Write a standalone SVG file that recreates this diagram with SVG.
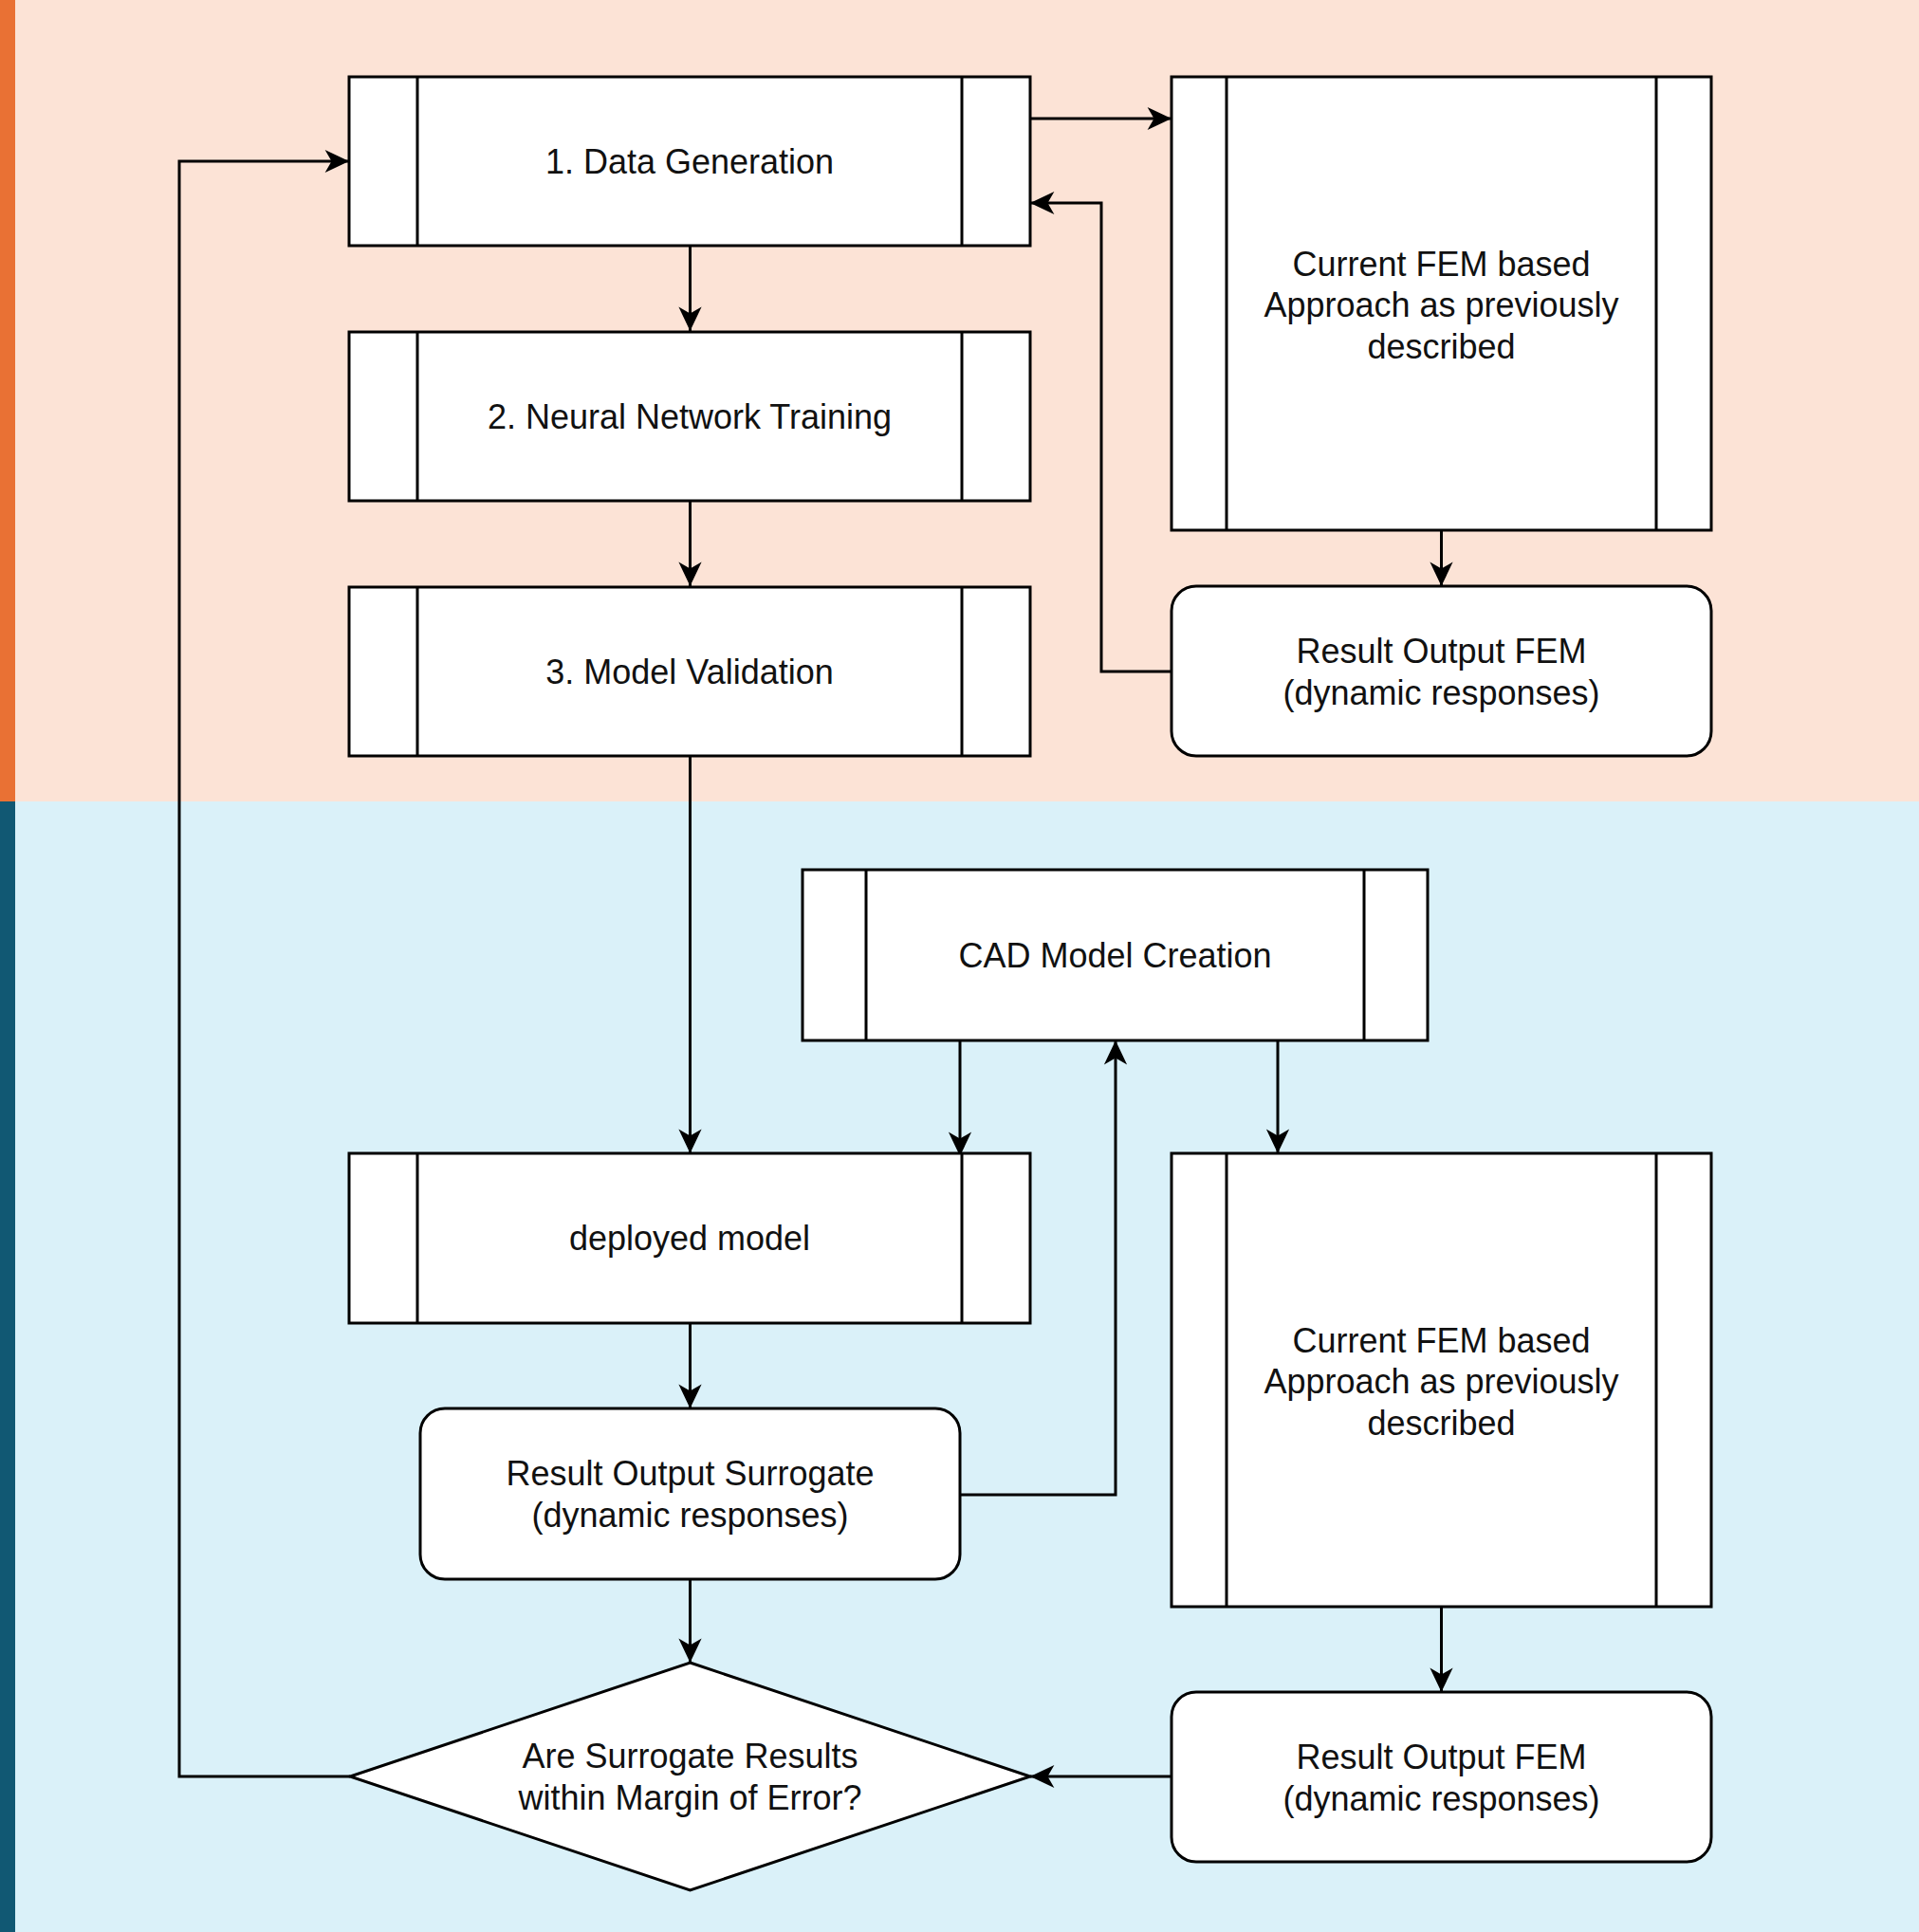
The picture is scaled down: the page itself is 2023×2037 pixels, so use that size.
<svg xmlns="http://www.w3.org/2000/svg" width="2023" height="2037" viewBox="0 0 2023 2037">
<defs>
<style>
.box{fill:#fff;stroke:#000;stroke-width:3}
.ln{fill:none;stroke:#000;stroke-width:3}
.t{font-family:"Liberation Sans",Arial,sans-serif;font-size:36px;fill:#111;text-anchor:middle}
.c{fill:none;stroke:#000;stroke-width:3;marker-end:url(#arr)}
</style>
<marker id="arr" markerUnits="userSpaceOnUse" markerWidth="30" markerHeight="30" viewBox="-24 -12 26 24" refX="0" refY="0" orient="auto">
<path d="M0,0 L-22,-10.5 L-16,0 L-22,10.5 Z" fill="#000"/>
</marker>
</defs>
<g id="background">
<rect x="0" y="0" width="2023" height="845" fill="#FCE3D6"/>
<rect x="0" y="845" width="2023" height="1192" fill="#DAF1F9"/>
<rect x="0" y="0" width="16" height="845" fill="#E97134"/>
<rect x="0" y="845" width="16" height="1192" fill="#115873"/>
</g>
<g id="connectors">
<path class="c" d="M727.5,259 V349"/>
<path class="c" d="M727.5,528 V618"/>
<path class="c" d="M727.5,797 V1216"/>
<path class="c" d="M1086,125 H1235"/>
<path class="c" d="M1235,708 H1161 V214 H1086"/>
<path class="c" d="M1519.5,559 V618"/>
<path class="c" d="M1012,1097 V1219"/>
<path class="c" d="M1347,1097 V1216"/>
<path class="c" d="M1012,1576 H1176 V1097"/>
<path class="c" d="M727.5,1395 V1485"/>
<path class="c" d="M727.5,1665 V1753"/>
<path class="c" d="M1519.5,1694 V1784"/>
<path class="c" d="M1235,1873 H1086"/>
<path class="c" d="M369,1873 H189 V170 H368"/>
</g>
<g id="data-generation">
<rect class="box" x="368" y="81" width="718" height="178"/>
<path class="ln" d="M440,81 V259 M1014,81 V259"/>
<text class="t" x="727" y="183">1. Data Generation</text>
</g>
<g id="nn-training">
<rect class="box" x="368" y="350" width="718" height="178"/>
<path class="ln" d="M440,350 V528 M1014,350 V528"/>
<text class="t" x="727" y="452">2. Neural Network Training</text>
</g>
<g id="model-validation">
<rect class="box" x="368" y="619" width="718" height="178"/>
<path class="ln" d="M440,619 V797 M1014,619 V797"/>
<text class="t" x="727" y="721">3. Model Validation</text>
</g>
<g id="fem-top">
<rect class="box" x="1235" y="81" width="569" height="478"/>
<path class="ln" d="M1293,81 V559 M1746,81 V559"/>
<text class="t" x="1519.5" y="291">Current FEM based</text>
<text class="t" x="1519.5" y="334">Approach as previously</text>
<text class="t" x="1519.5" y="378">described</text>
</g>
<g id="result-fem-top">
<rect class="box" x="1235" y="618" width="569" height="179" rx="26" ry="26"/>
<text class="t" x="1519.5" y="699">Result Output FEM</text>
<text class="t" x="1519.5" y="743">(dynamic responses)</text>
</g>
<g id="cad-model">
<rect class="box" x="846" y="917" width="659" height="180"/>
<path class="ln" d="M913,917 V1097 M1438,917 V1097"/>
<text class="t" x="1175.5" y="1020">CAD Model Creation</text>
</g>
<g id="deployed-model">
<rect class="box" x="368" y="1216" width="718" height="179"/>
<path class="ln" d="M440,1216 V1395 M1014,1216 V1395"/>
<text class="t" x="727" y="1318">deployed model</text>
</g>
<g id="fem-bottom">
<rect class="box" x="1235" y="1216" width="569" height="478"/>
<path class="ln" d="M1293,1216 V1694 M1746,1216 V1694"/>
<text class="t" x="1519.5" y="1426">Current FEM based</text>
<text class="t" x="1519.5" y="1469">Approach as previously</text>
<text class="t" x="1519.5" y="1513">described</text>
</g>
<g id="result-surrogate">
<rect class="box" x="443" y="1485" width="569" height="180" rx="26" ry="26"/>
<text class="t" x="727.5" y="1566">Result Output Surrogate</text>
<text class="t" x="727.5" y="1610">(dynamic responses)</text>
</g>
<g id="decision">
<polygon class="box" points="727.5,1753 1086,1873 727.5,1993 369,1873"/>
<text class="t" x="727.5" y="1864">Are Surrogate Results</text>
<text class="t" x="727.5" y="1908">within Margin of Error?</text>
</g>
<g id="result-fem-bottom">
<rect class="box" x="1235" y="1784" width="569" height="179" rx="26" ry="26"/>
<text class="t" x="1519.5" y="1865">Result Output FEM</text>
<text class="t" x="1519.5" y="1909">(dynamic responses)</text>
</g>
</svg>
